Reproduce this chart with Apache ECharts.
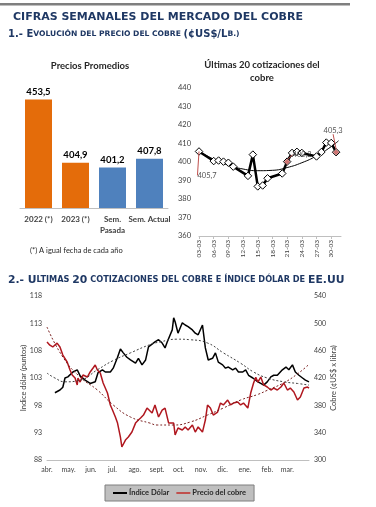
<!DOCTYPE html>
<html><head><meta charset="utf-8">
<script src="https://cdn.jsdelivr.net/npm/echarts@6/dist/echarts.min.js"></script>
<style>html,body{margin:0;padding:0;background:#fff}#c{width:376px;height:507px}</style>
</head><body><div id="c"></div><script>
// ---- Data: bar chart ----
const barCategories = ['2022 (*)', '2023 (*)', 'Sem.\nPasada', 'Sem. Actual'];
const barValues = [453.5, 404.9, 401.2, 407.8];
const barColors = ['#E46C0A', '#E46C0A', '#4F81BD', '#4F81BD'];

// ---- Data: últimas 20 cotizaciones (day of March, ¢US$/lb) ----
const cotizDays   = [3, 6, 7, 8, 9, 10, 13, 14, 15, 16, 17, 20, 21, 22, 23, 24, 27, 28, 29, 30, 31];
const cotizValues = [405.7, 400.5, 400.8, 400.2, 399.6, 397.5, 392.5, 404.0, 386.8, 387.3, 391.2, 393.8, 400.2, 404.9, 405.5, 404.9, 403.0, 405.4, 410.5, 410.3, 405.3];
const cotizTrendDays   = [3, 6, 9, 12, 15, 18, 21, 24, 27, 30, 31.5];
const cotizTrendValues = [405.7, 401.5, 398.3, 396.2, 395.3, 395.5, 397.0, 399.6, 403.3, 408.3, 411.5];
const markDays   = [3, 21, 31];
const markValues = [405.7, 400.2, 405.3];
const markLabels = ['405,7', '400,2', '405,3'];
const dayTickLabelSuffix = '-03';

// ---- Data: Índice dólar & precio del cobre (day offset from 1-abr-2022) ----
const monthStarts = [0, 30, 61, 91, 122, 153, 183, 214, 244, 275, 306, 334];
const monthLabels = ['abr.', 'may.', 'jun.', 'jul.', 'ago.', 'sept.', 'oct.', 'nov.', 'dic.', 'ene.', 'feb.', 'mar.'];
const dolarIndex = [[11,100.3],[18,100.8],[22,101.3],[25,103.0],[29,103.2],[36,104.1],[42,104.5],[46,103.4],[53,102.6],[60,102.0],[67,102.3],[71,104.0],[77,104.5],[81,104.1],[88,104.1],[92,104.8],[98,106.8],[102,108.3],[106,107.6],[111,106.8],[116,106.3],[123,105.7],[127,106.6],[132,105.4],[137,106.3],[141,108.7],[143,109.0],[150,109.6],[155,110.0],[160,109.4],[164,108.5],[167,109.6],[174,111.8],[176,114.0],[178,113.3],[182,111.2],[188,113.1],[192,112.7],[196,112.4],[202,111.8],[206,111.2],[210,110.9],[216,112.7],[220,108.5],[224,106.3],[230,106.6],[234,107.6],[238,105.9],[244,105.4],[248,104.8],[252,105.0],[258,104.5],[262,104.8],[266,104.1],[272,104.1],[276,104.5],[280,103.5],[286,103.0],[293,102.3],[297,102.0],[301,101.7],[306,102.3],[311,103.2],[315,103.5],[320,103.5],[327,104.5],[332,105.0],[336,104.5],[341,105.4],[345,104.1],[350,103.5],[355,103.0],[359,102.6],[364,102.3]];
const cobrePrecio = [[0,472.7],[4,468.0],[8,465.4],[14,471.0],[18,465.4],[22,453.6],[28,443.4],[32,431.7],[35,424.4],[39,420.0],[42,409.8],[43,420.0],[46,414.1],[50,424.4],[56,421.4],[60,428.8],[64,434.6],[67,439.0],[70,431.7],[74,427.3],[78,412.7],[84,398.0],[88,380.5],[91,373.1],[95,362.9],[98,354.0],[102,333.6],[104,319.0],[109,329.2],[113,333.6],[118,340.9],[123,354.0],[127,358.5],[130,361.4],[134,365.8],[139,376.0],[146,368.7],[150,380.5],[155,362.9],[160,373.1],[164,376.0],[169,354.0],[176,354.0],[178,336.6],[182,346.8],[188,343.9],[192,348.3],[196,343.9],[202,351.2],[206,340.9],[210,348.3],[216,340.9],[220,358.5],[223,380.5],[227,376.0],[231,365.8],[237,370.2],[241,383.4],[245,380.5],[251,387.8],[255,380.5],[259,383.4],[265,385.0],[269,380.5],[273,383.4],[279,376.0],[283,398.0],[287,412.7],[290,421.0],[293,414.1],[297,421.4],[301,409.8],[306,406.8],[311,402.4],[315,405.3],[320,402.4],[325,406.8],[329,412.7],[334,402.4],[338,405.3],[343,399.5],[348,387.8],[352,392.2],[357,405.3],[362,406.8],[364,405.3]];
const dolarTrend = [[0,103.9],[11,103.0],[25,102.3],[46,102.6],[70,104.5],[92,106.2],[116,107.6],[143,109.1],[157,109.6],[181,110.1],[199,110.0],[223,109.4],[245,107.6],[269,105.7],[287,104.1],[306,103.0],[329,102.3],[348,102.0],[364,101.7]];
const cobreTrend = [[0,494.6],[22,450.7],[46,421.4],[70,402.4],[92,380.5],[116,362.9],[143,354.0],[153,351.2],[176,351.2],[199,355.6],[223,365.8],[245,376.0],[269,387.8],[293,396.0],[306,402.0],[329,413.0],[348,426.0],[364,440.0]];

const NAVY = '#1F3864';
const F = 'Lato, "Open Sans", sans-serif';
const HF = '"DejaVu Sans", Verdana, sans-serif';

const chart = echarts.init(document.getElementById('c'), null, {renderer: 'canvas'});

const option = {
  animation: false,
  backgroundColor: '#fff',
  textStyle: {fontFamily: F},
  graphic: [
    {type: 'rect', shape: {x: 0, y: 3, width: 350, height: 2.5}, style: {fill: '#7F7F7F'}},
    {type: 'text', x: 13, y: 17, style: {text: 'CIFRAS SEMANALES DEL MERCADO DEL COBRE', font: 'bold 11px ' + HF, fill: NAVY, verticalAlign: 'middle'}},
    {type: 'text', x: 8, y: 34, style: {
      text: '{b|1.- E}{s|VOLUCIÓN DEL PRECIO DEL COBRE }{b|(¢US$/L}{s|B.)}',
      verticalAlign: 'middle',
      rich: {b: {font: 'bold 10px ' + HF, fill: NAVY}, s: {font: 'bold 7.6px ' + HF, fill: NAVY}}
    }},
    {type: 'text', x: 90, y: 66, style: {text: 'Precios Promedios', font: 'bold 9.5px ' + F, fill: '#262626', align: 'center', verticalAlign: 'middle'}},
    {type: 'text', x: 262, y: 65, style: {text: 'Últimas 20 cotizaciones del', font: 'bold 9.5px ' + F, fill: '#262626', align: 'center', verticalAlign: 'middle'}},
    {type: 'text', x: 262, y: 78, style: {text: 'cobre', font: 'bold 9.5px ' + F, fill: '#262626', align: 'center', verticalAlign: 'middle'}},
    {type: 'text', x: 30, y: 251, style: {text: '(*) A igual fecha de cada año', font: '7.5px ' + F, fill: '#262626', verticalAlign: 'middle'}},
    {type: 'text', x: 8, y: 280, style: {
      text: '{b|2.- U}{s|LTIMAS }{b|20}{s| COTIZACIONES DEL COBRE E ÍNDICE DÓLAR DE }{b|EE.UU}',
      verticalAlign: 'middle',
      rich: {b: {font: 'bold 10.8px ' + HF, fill: NAVY}, s: {font: 'bold 8.2px ' + HF, fill: NAVY}}
    }}
  ],
  legend: {
    data: [{name: 'Índice Dólar', icon: 'rect'}, {name: 'Precio del cobre', icon: 'rect'}],
    left: 105, top: 485,
    backgroundColor: '#BFBFBF', borderColor: '#7F7F7F', borderWidth: 1,
    padding: [4, 8, 4, 8], itemGap: 7, itemWidth: 14, itemHeight: 2,
    textStyle: {fontSize: 7.5, fontWeight: 'bold', color: '#262626', fontFamily: F, padding: [0, 0, 0, -3]}
  },
  grid: [
    {left: 20, right: 208, top: 78, bottom: 299},
    {left: 199, right: 35, top: 88, bottom: 271},
    {left: 47, right: 67, top: 296, bottom: 47}
  ],
  xAxis: [
    {type: 'category', gridIndex: 0, data: barCategories,
      axisLine: {lineStyle: {color: '#BFBFBF'}}, axisTick: {show: false},
      axisLabel: {fontSize: 8, fontWeight: 'bold', color: '#404040', lineHeight: 11, margin: 6, interval: 0}},
    {type: 'value', gridIndex: 1, min: 3, max: 32, interval: 3,
      axisLine: {lineStyle: {color: '#BFBFBF'}}, axisTick: {show: true, length: 3, lineStyle: {color: '#BFBFBF'}},
      splitLine: {show: false},
      axisLabel: {rotate: 90, fontSize: 6.5, color: '#404040', margin: 4, showMaxLabel: false,
        formatter: v => (v < 10 ? '0' + v : '' + v) + dayTickLabelSuffix}},
    {type: 'value', gridIndex: 2, min: 0, max: 364,
      axisLine: {lineStyle: {color: '#BFBFBF'}}, axisTick: {show: false}, splitLine: {show: false},
      axisLabel: {customValues: monthStarts, fontSize: 7, color: '#404040', margin: 6,
        formatter: v => monthLabels[monthStarts.indexOf(v)]}}
  ],
  yAxis: [
    {type: 'value', gridIndex: 0, min: 370, max: 470, show: false},
    {type: 'value', gridIndex: 1, min: 360, max: 440, interval: 10,
      axisLine: {show: false}, axisTick: {show: false}, splitLine: {show: false},
      axisLabel: {fontSize: 7.5, color: '#404040', margin: 8}},
    {type: 'value', gridIndex: 2, min: 88, max: 118, interval: 5, position: 'left',
      name: 'Indice dólar (puntos)', nameLocation: 'middle', nameGap: 19, nameRotate: 90, nameMoveOverlap: false,
      nameTextStyle: {fontSize: 7.5, color: '#404040'},
      axisLine: {show: false}, axisTick: {show: false}, splitLine: {show: false},
      axisLabel: {fontSize: 7, color: '#404040', margin: 5}},
    {type: 'value', gridIndex: 2, min: 300, max: 540, interval: 40, position: 'right',
      name: 'Cobre (¢US$ x libra)', nameLocation: 'middle', nameGap: 21, nameRotate: 90, nameMoveOverlap: false,
      nameTextStyle: {fontSize: 7.5, color: '#404040'},
      axisLine: {show: false}, axisTick: {show: false}, splitLine: {show: false},
      axisLabel: {fontSize: 7, color: '#404040', margin: 5}}
  ],
  series: [
    {type: 'bar', xAxisIndex: 0, yAxisIndex: 0, barWidth: 27,
      data: barValues.map((v, i) => ({value: v, itemStyle: {color: barColors[i]}})),
      label: {show: true, position: 'top', distance: 3, fontSize: 9.5, fontWeight: 'bold', color: '#000',
        formatter: p => p.value.toFixed(1).replace('.', ',')}},
    {type: 'line', xAxisIndex: 1, yAxisIndex: 1, smooth: 0.5, symbol: 'none',
      data: cotizTrendDays.map((d, i) => [d, cotizTrendValues[i]]),
      lineStyle: {color: '#000', width: 1}, z: 2},
    {type: 'line', xAxisIndex: 1, yAxisIndex: 1, symbol: 'diamond', symbolSize: 7.5,
      data: cotizDays.map((d, i) => [d, cotizValues[i]]),
      lineStyle: {color: '#000', width: 2.5},
      itemStyle: {color: '#fff', borderColor: '#000', borderWidth: 1}, z: 3},
    {type: 'scatter', xAxisIndex: 1, yAxisIndex: 1, symbol: 'diamond', symbolSize: 6,
      data: markDays.map((d, i) => ({value: [d, markValues[i]], symbolSize: i === 0 ? 0 : 6})),
      itemStyle: {color: '#C0504D'}, z: 4,
      label: {show: true, position: 'inside', fontSize: 7.5, color: '#262626',
        formatter: p => markLabels[p.dataIndex]},
      labelLine: {show: true, lineStyle: {color: '#C0504D', width: 1}},
      labelLayout: p => [{dx: 8, dy: 24}, {dx: 15, dy: -7}, {dx: -3, dy: -22}][p.dataIndex]},
    {name: 'Índice Dólar', type: 'line', xAxisIndex: 2, yAxisIndex: 2, symbol: 'none',
      data: dolarIndex, lineStyle: {color: '#000', width: 1.5}, itemStyle: {color: '#000'}},
    {name: 'Precio del cobre', type: 'line', xAxisIndex: 2, yAxisIndex: 3, symbol: 'none',
      data: cobrePrecio, lineStyle: {color: '#B0171F', width: 1.5}, itemStyle: {color: '#C0504D'}},
    {type: 'line', xAxisIndex: 2, yAxisIndex: 2, symbol: 'none', smooth: 0.5,
      data: dolarTrend, lineStyle: {color: '#404040', width: 1, type: [2, 2]}},
    {type: 'line', xAxisIndex: 2, yAxisIndex: 3, symbol: 'none', smooth: 0.5,
      data: cobreTrend, lineStyle: {color: '#7a2020', width: 1, type: [2, 2]}}
  ]
};
chart.setOption(option);
</script></body></html>
